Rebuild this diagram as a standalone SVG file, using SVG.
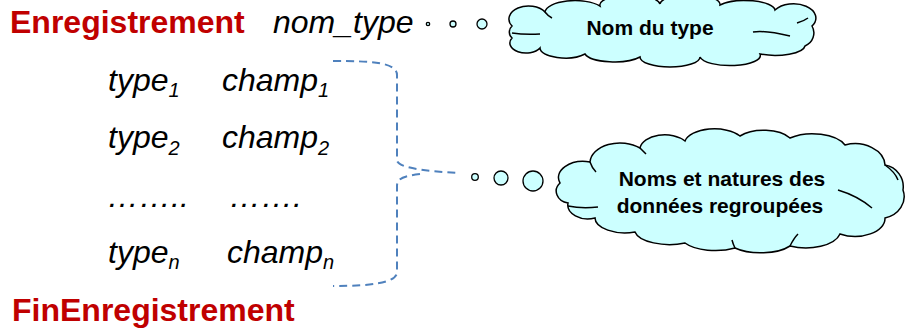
<svg xmlns="http://www.w3.org/2000/svg" width="910" height="330" viewBox="0 0 910 330">
<style>
.kw{font-family:"Liberation Sans",Arial,sans-serif;font-weight:bold;font-size:32px;fill:#C00000}
.it{font-family:"Liberation Sans",Arial,sans-serif;font-style:italic;font-size:32px;fill:#000}
.sub{font-size:20px}
.cl{fill:#CCFFFF;stroke:#000;stroke-width:1.5}
.inner{fill:none;stroke:#000;stroke-width:1.5}
.ct{font-family:"Liberation Sans",Arial,sans-serif;font-weight:bold;font-size:21px;fill:#000;text-anchor:middle}
.dot{fill:#CCFFFF;stroke:#000;stroke-width:1.3}
.br{fill:none;stroke:#4F81BD;stroke-width:2;stroke-dasharray:8,5}
</style>
<rect width="910" height="330" fill="#fff"/>
<g id="header">
<text class="kw" x="10" y="33">Enregistrement</text>
<text class="it" x="273" y="33">nom_type</text>
</g>
<g id="fields">
<text class="it" x="108" y="91">type<tspan class="sub" dy="6">1</tspan></text>
<text class="it" x="222" y="91">champ<tspan class="sub" dy="6">1</tspan></text>
<text class="it" x="108" y="148">type<tspan class="sub" dy="7">2</tspan></text>
<text class="it" x="222" y="148">champ<tspan class="sub" dy="7">2</tspan></text>
<text class="it" x="107" y="207">……..</text>
<text class="it" x="229" y="207">…….</text>
<text class="it" x="108" y="263">type<tspan class="sub" dy="6">n</tspan></text>
<text class="it" x="227" y="263">champ<tspan class="sub" dy="6">n</tspan></text>
</g>
<g id="footer">
<text class="kw" x="12" y="321">FinEnregistrement</text>
</g>
<g id="connectors">
<path class="br" d="M333,61 C370,61 397,62 397,75 L397,160 C397,167 420,171 460,173"/>
<path class="br" d="M420,174 C404,176 397,178 397,186 L397,272 C397,283 370,286 333,286"/>
<circle class="dot" cx="428" cy="24" r="1.7"/>
<circle class="dot" cx="453" cy="24" r="3"/>
<circle class="dot" cx="482" cy="24" r="5"/>
<circle class="dot" cx="475" cy="177" r="3.3"/>
<circle class="dot" cx="501" cy="178" r="7"/>
<circle class="dot" cx="533" cy="181" r="10"/>
</g>
<g id="cloud1">
<path class="cl" d="M512,26 A18,12 0 0,1 545,12 A30,12 0 0,1 600,6 A30,10 0 0,1 660,4 A30,10 0 0,1 720,5 A30,10 0 0,1 775,10 A22,14 0 0,1 812,26 A14,14 0 0,1 805,46 A30,10 0 0,1 760,54 A30,10 0 0,1 700,57 A30,10 0 0,1 640,57 A30,10 0 0,1 585,54 A25,10 0 0,1 540,48 A16,10 0 0,1 512,38 A8,8 0 0,1 512,26 Z"/>
<path class="inner" d="M512,33 Q525,35 540,34 M753,32 Q765,30 790,36 M797,23 Q804,21 808,18 M545,12 Q548,16 552,18"/>
<text class="ct" x="650" y="35">Nom du type</text>
</g>
<g id="cloud2">
<path class="cl" d="M560,183 A25,16 0 0,1 590,162 A30,20 0 0,1 640,148 A25,15 0 0,1 685,141 A30,15 0 0,1 740,136 A30,15 0 0,1 790,138 A35,18 0 0,1 845,145 A30,22 0 0,1 885,165 A22,22 0 0,1 903,190 A25,22 0 0,1 885,218 A30,18 0 0,1 840,234 A35,18 0 0,1 790,246 A35,15 0 0,1 735,248 A35,15 0 0,1 685,243 A35,15 0 0,1 635,232 A30,15 0 0,1 595,218 A20,14 0 0,1 568,203 A14,12 0 0,1 560,183 Z"/>
<path class="inner" d="M568,206 Q582,209 598,207 M838,190 Q858,196 872,208 M885,165 Q895,172 898,180 M590,162 Q592,168 596,172 M640,148 Q643,151 646,154 M790,246 Q794,238 798,234 M735,248 Q733,244 732,240"/>
<text class="ct" x="722" y="186">Noms et natures des</text>
<text class="ct" x="720" y="213">données regroupées</text>
</g>
</svg>
